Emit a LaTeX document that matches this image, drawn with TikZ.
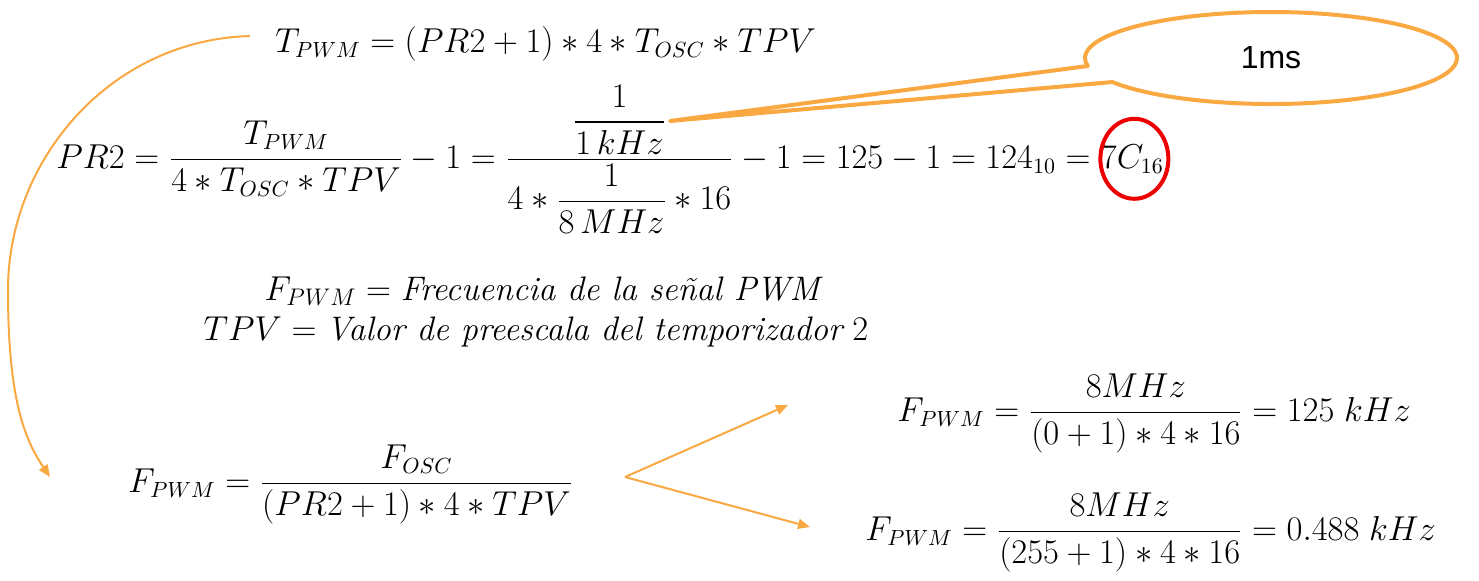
\documentclass[tikz,border=0pt]{standalone}
\usepackage{amsmath}
\usepackage{fontspec}
\newfontfamily\arialf{Liberation Sans}
\usetikzlibrary{arrows.meta,calc}
\definecolor{orng}{RGB}{250,168,66}
\definecolor{rd}{RGB}{238,0,0}
\begin{document}
\begin{tikzpicture}[x=0.5pt,y=-0.5pt,
 eq/.style={inner sep=0pt, anchor=base west, font=\fontsize{16}{19}\selectfont},
 deftext/.style={inner sep=0pt, anchor=base, font=\fontsize{17}{20}\selectfont},
 conn/.style={draw=orng, line width=1pt, -{Triangle[length=6pt,width=5pt]}},
 callout/.style={draw=orng, line width=2pt, line join=round},
 mark7/.style={draw=rd, line width=2pt}]
\useasboundingbox (0,0) rectangle (1479,580);
\fill[white] (0,0) rectangle (1479,580);
% equations
\node[eq] (e1) at (275,52) {$T_{PWM} = (PR2+1)*4*T_{OSC}*TPV$};
\node[eq] (e2) at (56,168) {$PR2 = \dfrac{T_{PWM}}{4*T_{OSC}*TPV} - 1 = \dfrac{\dfrac{1}{1\,kHz}}{4*\dfrac{1}{8\,MHz}*16} - 1 = 125 - 1 = 124_{10} ={}$};
\node[eq] (c7) at (e2.base east) {$7C_{16}$};
\node[deftext] (t1) at (542,300) {$F_{PWM} = \textit{Frecuencia de la señal PWM}$};
\node[deftext] (t2) at (536,340) {$TPV = \textit{Valor de preescala del temporizador}\ 2$};
\node[eq] (e4) at (128,492) {$F_{PWM} = \dfrac{F_{OSC}}{(PR2+1)*4*TPV}$};
\node[eq] (e5) at (897,421) {$F_{PWM} = \dfrac{8MHz}{(0+1)*4*16} = 125\ kHz$};
\node[eq] (e6) at (865,540) {$F_{PWM} = \dfrac{8MHz}{(255+1)*4*16} = 0.488\ kHz$};
% red mark
\draw[mark7] ([xshift=1pt]c7.center) ellipse [x radius=17pt, y radius=20pt];
% callout
\coordinate (ell) at (1271,58);
\node[font=\arialf\fontsize{16}{18}\selectfont, inner sep=0pt] (ms) at (ell) {1ms};
\coordinate (tip) at (670,121);
\draw[callout] ($(ell)+(211.5:93pt and 23pt)$) arc[start angle=211.5, end angle=550, x radius=93pt, y radius=23pt] -- (tip) -- cycle;
% connectors
\coordinate (cs) at (250,36);
\coordinate (ce) at (50,477);
\draw[conn] (cs) .. controls (110,40) and (8,160) .. (8,290) .. controls (8,400) and (25,440) .. (ce);
\coordinate (fork) at (625,477);
\coordinate (fu) at (788,405);
\coordinate (fd) at (810,527);
\draw[conn] (fork) -- (fu);
\draw[conn] (fork) -- (fd);
\end{tikzpicture}
\end{document}
